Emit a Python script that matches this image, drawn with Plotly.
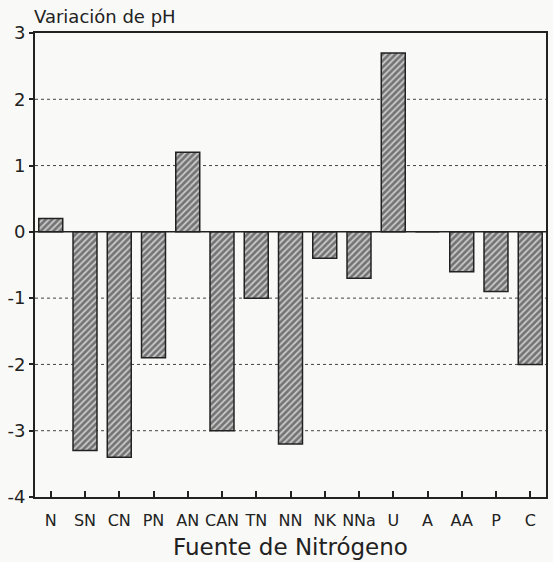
import plotly.graph_objects as go

categories = ["N", "SN", "CN", "PN", "AN", "CAN", "TN", "NN", "NK", "NNa", "U", "A", "AA", "P", "C"]
ph_change = [0.2, -3.3, -3.4, -1.9, 1.2, -3.0, -1.0, -3.2, -0.4, -0.7, 2.7, 0.0, -0.6, -0.9, -2.0]
y_ticks = [-4, -3, -2, -1, 0, 1, 2, 3]
y_tick_labels = ["-4", "-3", "-2", "-1", "0", "1", "2", "3"]

fig = go.Figure()
fig.add_trace(go.Bar(
    x=list(range(len(categories))),
    y=ph_change,
    width=0.7,
    marker=dict(
        color="white",
        line=dict(color="#222", width=1.5),
        pattern=dict(shape="/", fgcolor="#1e1e1e", bgcolor="#c8c8c8", size=4.5, solidity=0.6),
    ),
    showlegend=False,
))

for v in [2, 1, -1, -2, -3]:
    fig.add_shape(type="line", xref="paper", x0=0, x1=1, yref="y", y0=v, y1=v,
                  line=dict(color="#444", width=1, dash="dot"), layer="below")
fig.add_shape(type="line", xref="paper", x0=0, x1=1, yref="y", y0=0, y1=0,
              line=dict(color="#222", width=1.5), layer="above")

fig.update_layout(
    width=553, height=562,
    margin=dict(l=35, r=5, t=33, b=65),
    paper_bgcolor="#f9f9f7", plot_bgcolor="#f9f9f7",
    font=dict(family="DejaVu Sans, sans-serif", color="#222"),
    xaxis=dict(
        range=[-0.46, 14.46],
        tickvals=list(range(len(categories))), ticktext=categories,
        ticks="inside", ticklen=6, tickcolor="#222", tickwidth=1.5,
        ticklabelstandoff=8,
        showline=True, linecolor="#222", linewidth=2, mirror=True,
        showgrid=False, zeroline=False,
        tickfont=dict(size=16),
        title=dict(text="Fuente de Nitrógeno", font=dict(size=23), standoff=10),
    ),
    yaxis=dict(
        range=[-4, 3],
        tickvals=y_ticks, ticktext=y_tick_labels,
        ticks="outside", ticklen=4, tickcolor="#222", tickwidth=1.5,
        showline=True, linecolor="#222", linewidth=2, mirror=True,
        showgrid=False, zeroline=False,
        tickfont=dict(size=18),
    ),
    annotations=[dict(
        text="Variación de pH", xref="paper", yref="paper", x=-0.005, y=1.0,
        xanchor="left", yanchor="bottom", yshift=4, showarrow=False,
        font=dict(size=18, color="#222"),
    )],
)

fig.write_html("out.html")
